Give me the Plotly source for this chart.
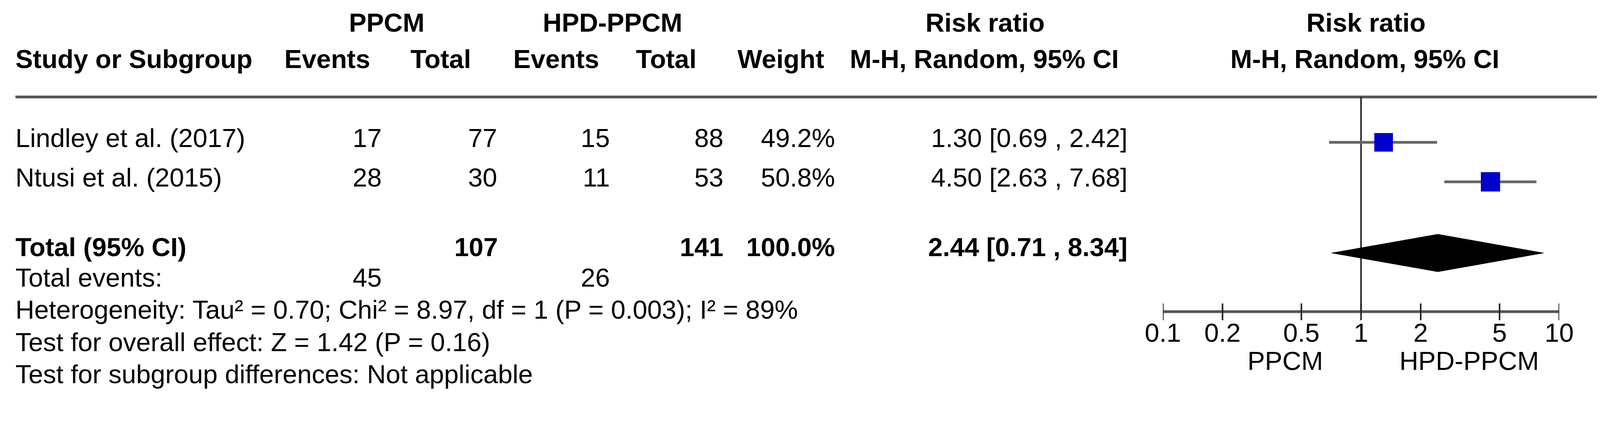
import plotly.graph_objects as go

# ---------------- data ----------------
studies = ["Lindley et al. (2017)", "Ntusi et al. (2015)"]
ppcm_events = [17, 28]
ppcm_total = [77, 30]
hpd_events = [15, 11]
hpd_total = [88, 53]
weights = [49.2, 50.8]
rr = [1.30, 4.50]
ci_low = [0.69, 2.63]
ci_high = [2.42, 7.68]

total_ppcm = 107
total_hpd = 141
total_weight = 100.0
total_rr = 2.44
total_low = 0.71
total_high = 8.34
events_ppcm = 45
events_hpd = 26

heterogeneity = "Heterogeneity: Tau² = 0.70; Chi² = 8.97, df = 1 (P = 0.003); I² = 89%"
overall = "Test for overall effect: Z = 1.42 (P = 0.16)"
subgroup = "Test for subgroup differences: Not applicable"

tick_vals = [0.1, 0.2, 0.5, 1, 2, 5, 10]
tick_labels = ["0.1", "0.2", "0.5", "1", "2", "5", "10"]
left_label = "PPCM"
right_label = "HPD-PPCM"

# ---------------- layout constants ----------------
W, H = 4158, 1092
FONT = "Liberation Sans, Arial, Helvetica, sans-serif"
FS = 67
X0, X1 = 3022, 4052  # pixel span of 0.1 .. 10

y_h1, y_h2, y_rule = 64, 157, 248
y_rows = [359, 460]
y_total, y_events, y_het, y_over, y_sub = 638, 716, 798, 881, 963
y_axis, y_ticklab, y_axlab = 797, 857, 929

fig = go.Figure()


def txt(xs, ys, texts, pos, bold=False, axis="x", color="black"):
    if bold:
        texts = ["<b>%s</b>" % t for t in texts]
    fig.add_trace(go.Scatter(
        x=xs, y=ys, text=texts, mode="text", textposition=pos,
        textfont=dict(family=FONT, size=FS, color=color),
        xaxis=axis, yaxis="y", hoverinfo="skip", cliponaxis=False))


# header rows
txt([1005, 1592, 2560, 3550], [y_h1] * 4,
    ["PPCM", "HPD-PPCM", "Risk ratio", "Risk ratio"], "middle center", bold=True)
txt([40], [y_h2], ["Study or Subgroup"], "middle right", bold=True)
txt([962, 1224, 1557, 1810, 2142], [y_h2] * 5,
    ["Events", "Total", "Events", "Total", "Weight"], "middle left", bold=True)
txt([2558, 3547], [y_h2] * 2, ["M-H, Random, 95% CI"] * 2, "middle center", bold=True)

# rule under header
fig.add_trace(go.Scatter(x=[40, 4150], y=[y_rule, y_rule], mode="lines",
                         line=dict(color="#555555", width=7), xaxis="x", yaxis="y",
                         hoverinfo="skip"))

# study rows
txt([40] * len(studies), y_rows, studies, "middle right")
txt([992] * 2, y_rows, [str(v) for v in ppcm_events], "middle left")
txt([1292] * 2, y_rows, [str(v) for v in ppcm_total], "middle left")
txt([1585] * 2, y_rows, [str(v) for v in hpd_events], "middle left")
txt([1880] * 2, y_rows, [str(v) for v in hpd_total], "middle left")
txt([2170] * 2, y_rows, ["%.1f%%" % w for w in weights], "middle left")
txt([2930] * 2, y_rows,
    ["%.2f [%.2f , %.2f]" % (a, b, c) for a, b, c in zip(rr, ci_low, ci_high)],
    "middle left")

# total row
txt([40], [y_total], ["Total (95% CI)"], "middle right", bold=True)
txt([1294, 1880, 2170, 2930], [y_total] * 4,
    [str(total_ppcm), str(total_hpd), "%.1f%%" % total_weight,
     "%.2f [%.2f , %.2f]" % (total_rr, total_low, total_high)],
    "middle left", bold=True)

# total events and tests
txt([40], [y_events], ["Total events:"], "middle right")
txt([992, 1585], [y_events] * 2, [str(events_ppcm), str(events_hpd)], "middle left")
txt([40, 40, 40], [y_het, y_over, y_sub], [heterogeneity, overall, subgroup], "middle right")

# ---------------- forest plot (log axis x2) ----------------
# line of no effect
fig.add_trace(go.Scatter(x=[1, 1], y=[y_rule, y_axis], mode="lines",
                         line=dict(color="#222222", width=4), xaxis="x2", yaxis="y",
                         hoverinfo="skip"))
# confidence intervals
for lo, hi, yy in zip(ci_low, ci_high, y_rows):
    fig.add_trace(go.Scatter(x=[lo, hi], y=[yy + 5, yy + 5], mode="lines",
                             line=dict(color="#666666", width=7), xaxis="x2", yaxis="y",
                             hoverinfo="skip"))
# point estimates
fig.add_trace(go.Scatter(x=rr, y=[yy + 5 for yy in y_rows], mode="markers",
                         marker=dict(symbol="square", size=[w * 0.97 for w in weights],
                                     color="#0000CC", opacity=1, line=dict(width=0)),
                         xaxis="x2", yaxis="y", hoverinfo="skip"))
# pooled diamond
yc = y_total + 9
fig.add_trace(go.Scatter(x=[total_low, total_rr, total_high, total_rr, total_low],
                         y=[yc, yc - 48, yc, yc + 48, yc],
                         mode="lines", fill="toself", fillcolor="black",
                         line=dict(color="black", width=1), xaxis="x2", yaxis="y",
                         hoverinfo="skip"))
# axis line
fig.add_trace(go.Scatter(x=[tick_vals[0], tick_vals[-1]], y=[y_axis, y_axis], mode="lines",
                         line=dict(color="#555555", width=7), xaxis="x2", yaxis="y",
                         hoverinfo="skip"))
# ticks
for tv in tick_vals:
    fig.add_trace(go.Scatter(x=[tv, tv], y=[y_axis - 21, y_axis + 22], mode="lines",
                             line=dict(color="#222222", width=4), xaxis="x2", yaxis="y",
                             hoverinfo="skip"))
txt(tick_vals, [y_ticklab] * len(tick_vals), tick_labels, "middle center", axis="x2")
txt([3340, 3818], [y_axlab] * 2, [left_label, right_label], "middle center")

fig.update_layout(
    autosize=True,
    margin=dict(l=0, r=0, t=0, b=0, pad=0),
    paper_bgcolor="white", plot_bgcolor="rgba(0,0,0,0)",
    showlegend=False,
    xaxis=dict(range=[0, W], domain=[0, 1], visible=False, fixedrange=True),
    xaxis2=dict(type="log", range=[-1, 1], domain=[X0 / W, X1 / W], anchor="y",
                visible=False, fixedrange=True),
    yaxis=dict(range=[H, 0], domain=[0, 1], visible=False, fixedrange=True),
)

post = ("document.documentElement.style.margin='0';"
        "document.body.style.margin='0';"
        "document.body.style.overflow='hidden';"
        "Plotly.Plots.resize(document.getElementById('{plot_id}'));")

fig.write_html("out.html", include_plotlyjs=True, full_html=True,
               default_width="100vw", default_height="100vh",
               config={"responsive": True, "displayModeBar": False},
               post_script=post)
